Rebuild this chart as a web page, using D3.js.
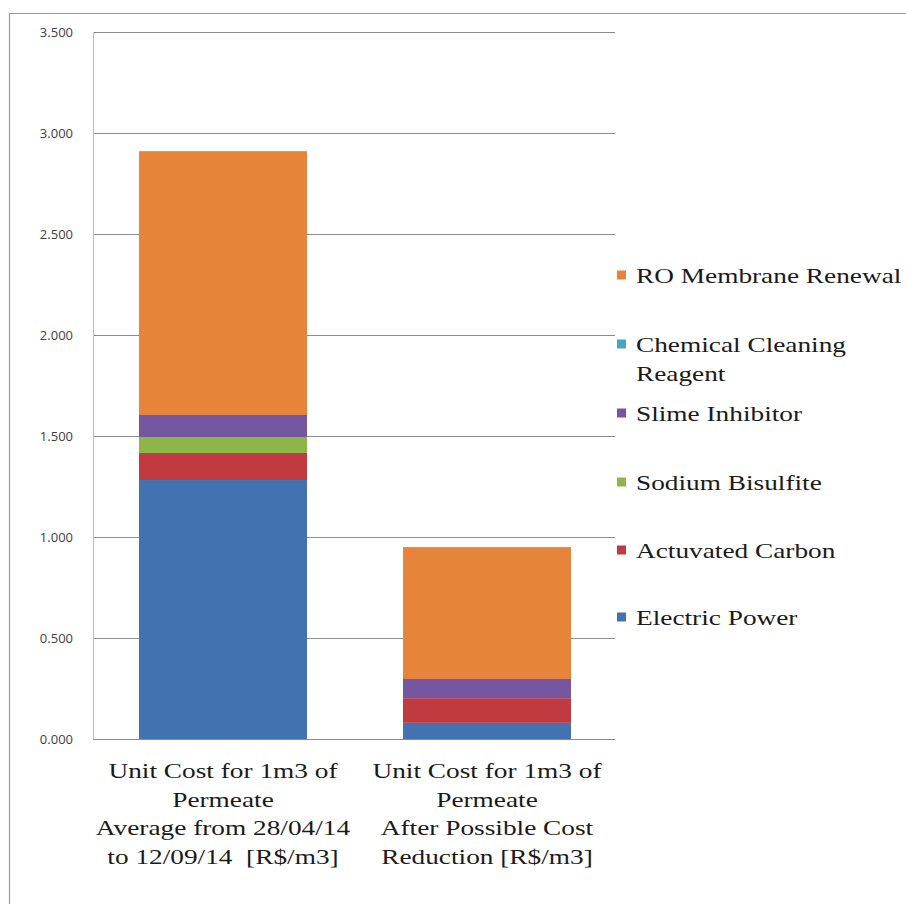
<!DOCTYPE html>
<html><head><meta charset="utf-8">
<script src="https://cdn.jsdelivr.net/npm/d3@7"></script>
<style>body{margin:0;background:#fff}svg{display:block}</style>
</head><body><svg id="c" width="906" height="904"></svg>
<script>
const categories = [
  ["Unit Cost for 1m3 of","Permeate","Average from 28/04/14","to 12/09/14  [R$/m3]"],
  ["Unit Cost for 1m3 of","Permeate","After Possible Cost","Reduction [R$/m3]"]
];
const seriesNames = ["Electric Power","Actuvated Carbon","Sodium Bisulfite","Slime Inhibitor","Chemical Cleaning Reagent","RO Membrane Renewal"];
const electricPower   = [1.282, 0.080];
const actuvatedCarbon = [0.134, 0.122];
const sodiumBisulfite = [0.079, 0.000];
const slimeInhibitor  = [0.109, 0.095];
const chemicalCleaning= [0.000, 0.000];
const roMembrane      = [1.306, 0.653];
const yTicks = [0,0.5,1,1.5,2,2.5,3,3.5];
const colors = ["#4273B0","#C03A40","#8DB548","#7457A0","#45A6BF","#E5843A"];

(function(){
const values = [electricPower,actuvatedCarbon,sodiumBisulfite,slimeInhibitor,chemicalCleaning,roMembrane];
const rows = categories.map((c,i)=>{const r={idx:i};seriesNames.forEach((s,j)=>r[s]=values[j][i]);return r;});
const stack = d3.stack().keys(seriesNames)(rows);

const svg = d3.select("#c");
svg.append("path").attr("d","M9.5,904 V13.5 H906").attr("fill","none").attr("stroke","#9a9a9a").attr("stroke-width",1.2);

const pL=93, pR=615, pT=32, pB=739;
const y = d3.scaleLinear().domain([0,3.5]).range([pB,pT]);
const x = d3.scaleBand().domain([0,1]).range([91,619]).paddingInner(96/264).paddingOuter(48/264);

svg.append("g").selectAll("line").data(yTicks).join("line")
  .attr("x1",pL).attr("x2",pR).attr("y1",d=>Math.round(y(d))+0.5).attr("y2",d=>Math.round(y(d))+0.5)
  .attr("stroke","#8c8c8c").attr("stroke-width",1);
svg.append("line").attr("x1",pL+0.5).attr("x2",pL+0.5).attr("y1",pT).attr("y2",pB).attr("stroke","#bdbdbd");

const yAxis = d3.axisLeft(y).tickValues(yTicks).tickFormat(d3.format(".3f")).tickSize(0).tickPadding(20);
const ga = svg.append("g").attr("transform",`translate(${pL},0)`).call(yAxis);
ga.select(".domain").remove();
ga.selectAll("text").attr("font-family","'Open Sans', Carlito, sans-serif").attr("font-size",13).attr("fill","#404040");

const bars = svg.append("g");
stack.forEach((layer,j)=>{
  bars.append("g").attr("fill",colors[j]).selectAll("rect").data(layer).join("rect")
    .attr("x",(d,i)=>x(i)).attr("width",x.bandwidth())
    .attr("y",d=>y(d[1])).attr("height",d=>Math.max(0,y(d[0])-y(d[1])));
});

const widen = 1.3;
function stretch(sel){
  sel.each(function(){
    const w = this.getComputedTextLength();
    d3.select(this).attr("textLength", w*widen).attr("lengthAdjust","spacingAndGlyphs");
  });
}

const serif = "'Liberation Serif', 'DejaVu Serif', serif";
const cat = svg.append("g").attr("font-family",serif).attr("font-size",21).attr("fill","#1a1a1a").attr("text-anchor","middle");
categories.forEach((lines,i)=>{
  const cx = x(i)+x.bandwidth()/2;
  lines.forEach((l,k)=>cat.append("text").attr("x",cx).attr("y",778+k*28.5).attr("xml:space","preserve").text(l));
});
stretch(cat.selectAll("text"));

const legendItems = [
  {lines:["RO Membrane Renewal"], c:5, y:275},
  {lines:["Chemical Cleaning","Reagent"], c:4, y:344},
  {lines:["Slime Inhibitor"], c:3, y:413},
  {lines:["Sodium Bisulfite"], c:2, y:482},
  {lines:["Actuvated Carbon"], c:1, y:550},
  {lines:["Electric Power"], c:0, y:617}
];
const lg = svg.append("g").attr("font-family",serif).attr("font-size",21).attr("fill","#1a1a1a");
legendItems.forEach(it=>{
  lg.append("rect").attr("x",617).attr("y",it.y-4.5).attr("width",9).attr("height",9).attr("fill",colors[it.c]);
  it.lines.forEach((l,k)=>lg.append("text").attr("x",636).attr("y",it.y+8+k*29).text(l));
});
stretch(lg.selectAll("text"));
})();
</script></body></html>
